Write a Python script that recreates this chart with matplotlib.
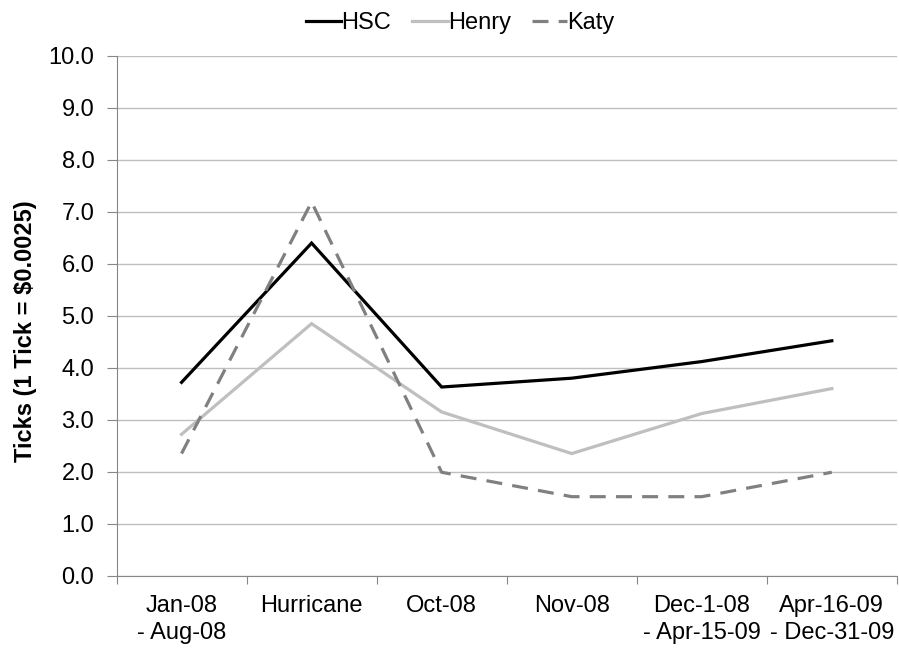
import matplotlib
matplotlib.use('Agg')
import matplotlib.pyplot as plt
import numpy as np

plt.rcParams['font.family'] = ['Liberation Sans', 'DejaVu Sans']

# 数据
categories = ['Jan-08\n- Aug-08', 'Hurricane', 'Oct-08', 'Nov-08',
              'Dec-1-08\n- Apr-15-09', 'Apr-16-09\n- Dec-31-09']
hsc = [3.72, 6.40, 3.63, 3.80, 4.12, 4.52]
henry = [2.72, 4.85, 3.15, 2.35, 3.12, 3.60]
katy = [2.35, 7.19, 1.99, 1.52, 1.52, 1.99]
yticks = np.arange(0, 10.01, 1.0)

fs = 17

fig = plt.figure(figsize=(8.99, 6.51), dpi=100)
ax = fig.add_axes([0.1296, 0.1157, 0.868, 0.7983])

x = np.arange(len(categories))
ax.plot(x, hsc, color='black', lw=2.3, label='HSC', solid_joinstyle='miter')
ax.plot(x, henry, color='#BFBFBF', lw=2.3, label='Henry', solid_joinstyle='miter')
ax.plot(x, katy, color='#808080', lw=2.3, ls=(0, (5, 3.2)), label='Katy')

ax.set_xlim(-0.5, len(categories) - 0.5)
ax.set_ylim(0, 10)
ax.set_yticks(yticks)
ax.set_yticklabels(['%.1f' % v for v in yticks], fontsize=fs)
ax.yaxis.grid(True, color='#BFBFBF', lw=1)
ax.set_axisbelow(True)

# x轴刻度在类别之间
ax.set_xticks(np.arange(-0.5, len(categories), 1.0))
ax.set_xticklabels([])
ax.set_xticks(x, minor=True)
ax.set_xticklabels(categories, minor=True, fontsize=fs, linespacing=1.3)
ax.tick_params(axis='x', which='minor', length=0, pad=14)
ax.tick_params(axis='x', which='major', length=6, color='#868686', direction='out')
ax.tick_params(axis='y', length=7, color='#868686', pad=9)

for s in ['top', 'right']:
    ax.spines[s].set_visible(False)
ax.spines['left'].set_color('#868686')
ax.spines['bottom'].set_color('#868686')

ax.set_ylabel('Ticks (1 Tick = \\$0.0025)', fontsize=fs, fontweight='bold', labelpad=8)
ax.yaxis.label.set_y(0.471)

fig.legend(*ax.get_legend_handles_labels(), loc='upper center',
           bbox_to_anchor=(0.512, 1.0), ncol=3, frameon=False,
           fontsize=fs, handlelength=1.5, handletextpad=0.0, columnspacing=0.9,
           borderaxespad=0.1)

fig.savefig('out.png', dpi=100)
